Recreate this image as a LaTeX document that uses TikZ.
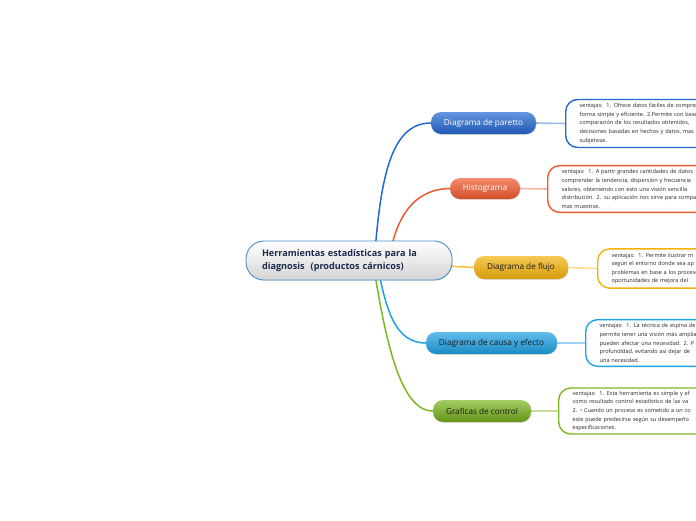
\documentclass[tikz,border=0pt]{standalone}
\usepackage{fontspec}
\setmainfont{Open Sans}
\usetikzlibrary{backgrounds,shadows}
\definecolor{cblue}{HTML}{2468D2}
\definecolor{corange}{HTML}{EE5A30}
\definecolor{cyellow}{HTML}{F2B20C}
\definecolor{clblue}{HTML}{1EA2E6}
\definecolor{cgreen}{HTML}{7CB81E}
\definecolor{cnavy}{HTML}{1C2B4C}
\definecolor{cborder}{HTML}{4A90D0}
\tikzset{
  x=1pt,y=-1pt,
  branch/.style={rounded corners=10pt, minimum height=22pt, inner xsep=8pt, inner ysep=0pt,
     font=\fontsize{8.2}{9}\selectfont, drop shadow={opacity=0.25,shadow xshift=0.6pt,shadow yshift=-0.8pt}},
  tbox/.style={draw, line width=1.4pt, fill=white, rounded corners=12pt, anchor=west,
     text width=300pt, align=left, inner xsep=14pt, inner ysep=4pt,
     font=\fontsize{5.55}{8.6}\selectfont, text=black!85},
  link/.style={line width=1.5pt, line cap=round},
  blink/.style={line width=1.6pt, opacity=0.45},
}
\begin{document}
\begin{tikzpicture}
\clip (0,0) rectangle (696,520);

% central
\node[rounded corners=18pt, draw=cborder, line width=0.9pt,
      top color=white, bottom color=black!17, minimum height=39pt,
      text width=174pt, inner xsep=16pt, inner ysep=2pt, align=left,
      font=\bfseries\fontsize{9.1}{13.5}\selectfont, text=cnavy,
      drop shadow={opacity=0.2,shadow xshift=0.6pt,shadow yshift=-0.8pt}]
  (c) at (349,260.5) {Herramientas estadísticas para la\\diagnosis\ \ (productos cárnicos)};

% branches
\node[branch, top color=cblue!70!white, bottom color=cblue!85!black, text=white, minimum width=105pt] (b1) at (483.5,123) {Diagrama de paretto};
\node[branch, top color=corange!70!white, bottom color=corange!88!black, text=white, minimum width=70pt, minimum height=21pt] (b2) at (485,188.5) {Histograma};
\node[branch, top color=cyellow!70!white, bottom color=cyellow!88!black, text=black!90, minimum width=94pt, minimum height=23pt] (b3) at (521,267.5) {Diagrama de flujo};
\node[branch, top color=clblue!70!white, bottom color=clblue!85!black, text=black!90, minimum width=131pt] (b4) at (491.5,343) {Diagrama de causa y efecto};
\node[branch, top color=cgreen!70!white, bottom color=cgreen!80!black, text=black!90, minimum width=98pt] (b5) at (482,411) {Graficas de control};

% text boxes
\node[tbox, draw=cblue] (t1) at (565,123.5) {ventajas:\ \ 1. Ofrece datos fáciles de comprender de\\forma simple y eficiente. 2.Permite con base\\comparación de los resultados obtenidos,\\decisiones basadas en hechos y datos, mas\\subjetivas.};
\node[tbox, draw=corange] (t2) at (547,189) {ventajas:\ \ 1. A partir grandes cantidades de datos\\comprender la tendencia, dispersión y frecuencia\\valores, obteniendo con esto una visión sencilla\\distribución. 2. su aplicación nos sirve para comparar\\mas muestras.};
\node[tbox, draw=cyellow] (t3) at (597,268.5) {ventajas:\ \ 1. Permite ilustrar m\\según el entorno donde sea ap\\problemas en base a los procesos\\oportunidades de mejora del};
\node[tbox, draw=clblue] (t4) at (585,343) {ventajas:\ \ 1. La técnica de espina de\\permite tener una visión más amplia\\pueden afectar una necesidad. 2. P\\profundidad, evitando así dejar de\\una necesidad.};
\node[tbox, draw=cgreen, inner ysep=3pt] (t5) at (558,411) {ventajas:\ \ 1. Esta herramienta es simple y ef\\como resultado control estadístico de las va\\2. • Cuando un proceso es sometido a un co\\este puede predecirse según su desempeño\\especificaciones.};

\begin{scope}[on background layer]
  \fill[white] (0,0) rectangle (696,520);
  \draw[link, cblue] ([xshift=25pt,yshift=-5pt]c.center) .. controls (380,180) and (390,123) .. (b1.west);
  \draw[link, corange] ([xshift=39pt,yshift=-5pt]c.center) .. controls (395,215) and (415,189) .. (b2.west);
  \draw[link, cyellow!80!white] (c.center) -- (b3.west);
  \draw[link, clblue] ([xshift=27pt,yshift=5pt]c.center) .. controls (385,310) and (395,343) .. (b4.west);
  \draw[link, cgreen] ([xshift=23pt,yshift=5pt]c.center) .. controls (385,340) and (400,411) .. (b5.west);
  \draw[blink, cblue] (b1.east) -- (t1.west);
  \draw[blink, corange] (b2.east) -- (t2.west);
  \draw[blink, cyellow] (b3.east) -- (t3.west);
  \draw[blink, clblue] (b4.east) -- (t4.west);
  \draw[blink, cgreen] (b5.east) -- (t5.west);
\end{scope}
\end{tikzpicture}
\end{document}
